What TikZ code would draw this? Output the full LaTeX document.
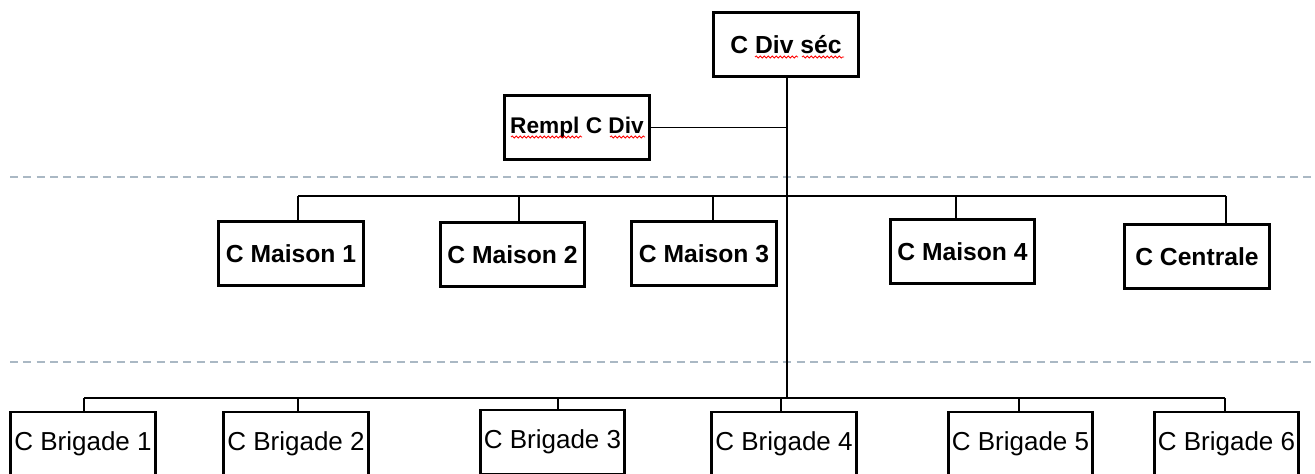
\documentclass[tikz,border=0pt]{standalone}
\usepackage{fontspec}
\setmainfont{Liberation Sans}
\usepackage{tikz}
\usetikzlibrary{positioning,decorations.pathmorphing}

\definecolor{sepgrey}{RGB}{170,184,196}
\tikzset{
  chiefbox/.style={draw, line width=2.2pt, inner sep=0pt, minimum width=108.5pt,
    minimum height=48pt, font=\fontsize{18.5}{20}\selectfont\bfseries},
  brigbox/.style={chiefbox, font=\fontsize{19.5}{21}\selectfont},
  link/.style={line width=1pt},
  sepline/.style={dash pattern=on 6pt off 4pt, line width=0.9pt, color=sepgrey},
  spell/.style={red, line width=0.6pt, decorate,
    decoration={snake, amplitude=0.8pt, segment length=3pt}}
}

\begin{document}
\begin{tikzpicture}[x=0.75pt,y=-0.75pt]
  \useasboundingbox (0,0) rectangle (1315,474);
  \clip (0,0) rectangle (1315,474);

  % Division head and deputy
  \node[chiefbox] (div) at (786,44.5) {C Div séc};
  \node[chiefbox, font=\fontsize{17}{19}\selectfont\bfseries] (rempl) at (577,127.5) {Rempl C Div};

  % Separators
  \draw[sepline] (10,177) -- (1315,177);
  \draw[sepline] (10,362) -- (1315,362);

  % Houses
  \node[chiefbox] (m1) at (291,253.5) {C Maison 1};
  \node[chiefbox] (m2) at (512.5,254.5) {C Maison 2};
  \node[chiefbox] (m3) at (704,253.5) {C Maison 3};
  \node[chiefbox] (m4) at (962.5,251.5) {C Maison 4};
  \node[chiefbox] (cent) at (1197,256.5) {C Centrale};

  % Brigades
  \node[brigbox] (b1) at (83,444) {C Brigade 1};
  \node[brigbox] (b2) at (296,444) {C Brigade 2};
  \node[brigbox] (b3) at (552.5,442) {C Brigade 3};
  \node[brigbox] (b4) at (784,444) {C Brigade 4};
  \node[brigbox] (b5) at (1020.5,444) {C Brigade 5};
  \node[brigbox] (b6) at (1226.5,444) {C Brigade 6};

  % Bus junctions
  \coordinate (trunk) at ([xshift=0.75pt]div.south);
  \coordinate (jm1) at (298,196);
  \coordinate (jm2) at (519,196);
  \coordinate (jm3) at (713,196);
  \coordinate (jm4) at (956,196);
  \coordinate (jc) at (1226,196);
  \coordinate (jb1) at (84,398);
  \coordinate (jb2) at (298,398);
  \coordinate (jb3) at (558,398);
  \coordinate (jb4) at (781,398);
  \coordinate (jb5) at (1019,398);
  \coordinate (jb6) at (1225,398);

  % Main trunk
  \draw[link] (trunk) -- (trunk |- jb4);
  \draw[link] (rempl.east) -- (rempl.east -| trunk);

  % House bus
  \draw[link] (jm1) -- (jc);
  \foreach \j/\n in {jm1/m1,jm2/m2,jm3/m3,jm4/m4,jc/cent}
    \draw[link] (\j) -- (\j |- \n.north);

  % Brigade bus
  \draw[link] (jb1) -- (jb6);
  \foreach \j/\n in {jb1/b1,jb2/b2,jb3/b3,jb4/b4,jb5/b5,jb6/b6}
    \draw[link] (\j) -- (\j |- \n.north);

  % Spell check marks
  \draw[spell] (755,57) -- (798,57);
  \draw[spell] (802,57) -- (844,57);
  \draw[spell] (511,137) -- (582,137);
  \draw[spell] (610,137) -- (645,137);
\end{tikzpicture}
\end{document}
